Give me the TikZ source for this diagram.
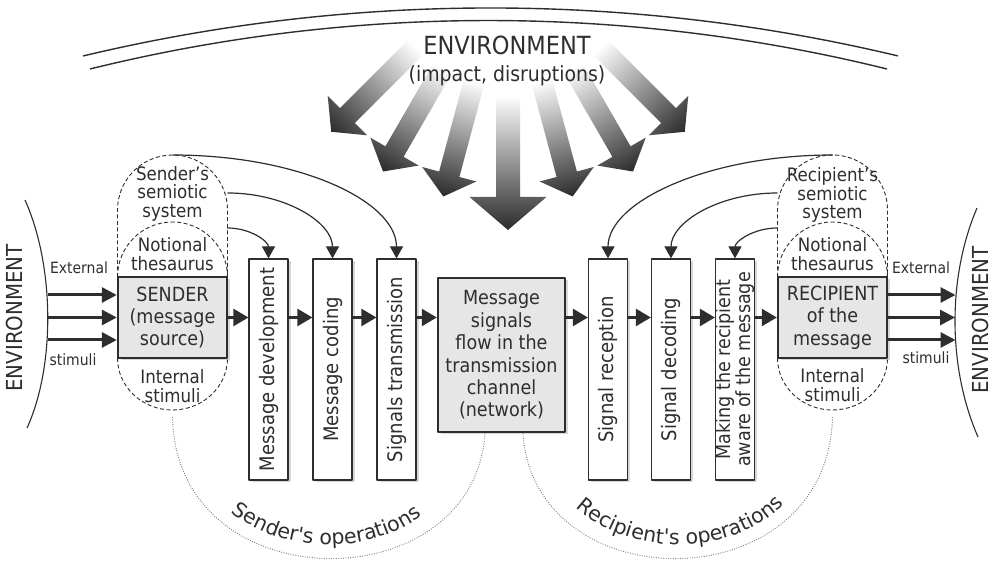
\documentclass[tikz,border=0pt]{standalone}
\usepackage{fontspec}
\setmainfont{DejaVu Sans Condensed}
\newfontfamily\opsfam{DejaVu Sans}
\usetikzlibrary{arrows.meta,shadows,decorations.text}

\definecolor{ink}{HTML}{2E2E2E}
\definecolor{keyfill}{HTML}{E6E6E6}
\definecolor{dotline}{HTML}{7A7A7A}
\definecolor{arrowdark}{HTML}{2A2A2A}

\newcommand\labelfnt{\fontsize{18.5}{18.5}\selectfont}
\newcommand\keyfnt{\fontsize{19.5}{22.4}\selectfont}
\newcommand\stepfnt{\fontsize{20}{18}\selectfont}
\newcommand\steptwofnt{\fontsize{19.5}{18}\selectfont}
\newcommand\stimfnt{\fontsize{15.5}{18}\selectfont}
\newcommand\envfnt{\fontsize{22}{24}\selectfont}
\newcommand\titlefnt{\fontsize{21}{27}\selectfont}
\newcommand\titlebig{\fontsize{25}{27}\selectfont}
\newcommand\opsfnt{\opsfam\fontsize{20.5}{24}\selectfont\color{ink}}

\tikzset{
  softshadow/.style={drop shadow={shadow xshift=2.5pt, shadow yshift=-2.5pt, opacity=0.3}},
  stepbox/.style={draw=ink, line width=1.2pt, fill=white, minimum width=39pt,
    minimum height=221pt, inner sep=0pt, softshadow},
  steptext/.style={rotate=90, font=\stepfnt, align=center, inner sep=0pt, text=ink},
  keybox/.style={draw=ink, line width=2.4pt, fill=keyfill, inner sep=0pt,
    align=center, font=\keyfnt, text=ink, softshadow},
  capline/.style={draw=ink, line width=0.9pt, dash pattern=on 4pt off 2.5pt},
  caplabel/.style={align=center, font=\labelfnt, inner sep=0pt, text=ink},
  flowarrow/.style={draw=ink, line width=2.4pt, -{Triangle[length=15pt,width=17pt]}},
  stimarrow/.style={draw=ink, line width=3pt, -{Triangle[length=15pt,width=15pt]}},
  feedarrow/.style={draw=ink, line width=1.2pt, -{Triangle[length=12pt,width=13pt]}},
  horizon/.style={draw=ink, line width=1.4pt},
  sidearc/.style={draw=ink, line width=1.1pt},
  opsarc/.style={draw=dotline, line width=0.9pt, dash pattern=on 0.9pt off 1.5pt},
  envlabel/.style={rotate=90, font=\envfnt, inner sep=0pt, text=ink},
  stimlabel/.style={font=\stimfnt, inner sep=0pt, text=ink},
}

\begin{document}
\begin{tikzpicture}[x=1pt,y=1pt,line join=round]
\useasboundingbox (0,0) rectangle (994,567);
\fill[white] (0,0) rectangle (994,567);

% outer environment horizon
\draw[horizon] (83,511) arc[start angle=103.44, end angle=76.57, radius=1753.8];
\draw[horizon] (90,498) arc[start angle=103.88, end angle=76.12, radius=1661.4];

% fan of fading impact arrows
\foreach \ang/\rt/\rs/\w/\hw/\hl in {-45/250/130/10.5/28/23, -30/250/130/10.5/28/23,
    -15/250/130/10.5/28/23, 15/250/130/10.5/28/23, 30/250/130/10.5/28/23,
    45/250/130/10.5/28/23, 0/275/140/12/38.5/33}{
  \begin{scope}[transform canvas={shift={(508pt,612pt)}, rotate=\ang}]
    \shade[top color=white, middle color=black!25, bottom color=arrowdark]
      ({-\w},{-\rs}) -- ({-\w},{\hl-\rt}) -- ({-\hw},{\hl-\rt}) -- (0,{-\rt})
      -- ({\hw},{\hl-\rt}) -- ({\w},{\hl-\rt}) -- ({\w},{-\rs}) -- cycle;
  \end{scope}
}

\node[font=\titlefnt, align=center, text=ink, inner sep=0pt] (title) at (507,506.5)
  {{\titlebig ENVIRONMENT}\\(impact, disruptions)};

% side environments
\draw[sidearc] (25,367) .. controls (55,300) and (55,200) .. (27,139);
\draw[sidearc] (977,359) .. controls (947.5,290) and (947.5,200) .. (978,130);
\node[envlabel] (envL) at (14,249) {ENVIRONMENT};
\node[envlabel] (envR) at (980.5,247) {ENVIRONMENT};

% sender's semiotic capsule
\draw[capline] (117.5,290) -- (117.5,357) arc[start angle=180, end angle=0, radius=55] -- (227.5,290);
\draw[capline] (117.5,290) arc[start angle=180, end angle=0, radius=55];
\draw[capline] (117.5,209) arc[start angle=180, end angle=360, x radius=55, y radius=52];
% recipient's semiotic capsule
\draw[capline] (777.5,290) -- (777.5,357) arc[start angle=180, end angle=0, radius=55] -- (887.5,290);
\draw[capline] (777.5,290) arc[start angle=180, end angle=0, radius=55];
\draw[capline] (777.5,209) arc[start angle=180, end angle=360, x radius=55, y radius=52];

\node[caplabel] (ssem) at (172.5,373.5) {Sender's\\semiotic\\system};
\node[caplabel] (snot) at (172.5,313) {Notional\\thesaurus};
\node[caplabel] (sint) at (172.5,181) {Internal\\stimuli};
\node[caplabel] (rsem) at (832.5,372) {Recipient's\\semiotic\\system};
\node[caplabel] (rnot) at (832.5,313) {Notional\\thesaurus};
\node[caplabel] (rint) at (832.5,182) {Internal\\stimuli};

% main boxes
\node[keybox, minimum width=109pt, minimum height=81pt] (snd) at (172.5,249.5)
  {SENDER\\(message\\source)};
\node[keybox, minimum width=127pt, minimum height=154pt] (chn) at (501.5,212)
  {Message\\signals\\flow in the\\transmission\\channel\\(network)};
\node[keybox, minimum width=109pt, minimum height=81pt] (rcp) at (832.5,249.5)
  {RECIPIENT\\of the\\message};

% operation steps
\node[stepbox] (md) at (268.5,197.5) {};
\node[steptext] (mdt) at (md) {Message development};
\node[stepbox] (mc) at (332.5,197.5) {};
\node[steptext] (mct) at (mc) {Message coding};
\node[stepbox] (st) at (396.5,197.5) {};
\node[steptext] (stt) at (st) {Signals transmission};
\node[stepbox] (sr) at (608,197.5) {};
\node[steptext] (srt) at (sr) {Signal reception};
\node[stepbox] (sd) at (671,197.5) {};
\node[steptext] (sdt) at (sd) {Signal decoding};
\node[stepbox] (mk) at (735,197.5) {};
\node[steptext, font=\steptwofnt] (mkt) at (mk) {Making the recipient\\aware of the message};

% message flow
\coordinate (flowline) at (0,249.5);
\draw[flowarrow] (snd.east) -- (md.west |- flowline);
\draw[flowarrow] (md.east |- flowline) -- (mc.west |- flowline);
\draw[flowarrow] (mc.east |- flowline) -- (st.west |- flowline);
\draw[flowarrow] (st.east |- flowline) -- (chn.west |- flowline);
\draw[flowarrow] (chn.east |- flowline) -- (sr.west |- flowline);
\draw[flowarrow] (sr.east |- flowline) -- (sd.west |- flowline);
\draw[flowarrow] (sd.east |- flowline) -- (mk.west |- flowline);
\draw[flowarrow] (mk.east |- flowline) -- (rcp.west);

% external stimuli
\coordinate (eL1) at (47.5,272);
\coordinate (eL2) at (48,249.5);
\coordinate (eL3) at (47.5,227);
\coordinate (eR1) at (955.5,272);
\coordinate (eR2) at (955,249.5);
\coordinate (eR3) at (955.5,227);
\draw[stimarrow] (eL1) -- (snd.west |- eL1);
\draw[stimarrow] (eL2) -- (snd.west |- eL2);
\draw[stimarrow] (eL3) -- (snd.west |- eL3);
\draw[stimarrow] (rcp.east |- eR1) -- (eR1);
\draw[stimarrow] (rcp.east |- eR2) -- (eR2);
\draw[stimarrow] (rcp.east |- eR3) -- (eR3);
\node[stimlabel] (extL) at (79,299) {External};
\node[stimlabel] (stmL) at (73,207) {stimuli};
\node[stimlabel] (extR) at (921,299) {External};
\node[stimlabel] (stmR) at (926,209) {stimuli};

% semiotic feed-ins
\coordinate (sapex) at (172.5,412);
\coordinate (sside1) at (227.5,374);
\coordinate (sside2) at (227.5,339);
\coordinate (rapex) at (832.5,412);
\coordinate (rside1) at (777.5,374);
\coordinate (rside2) at (777.5,339);
\draw[feedarrow] (sapex) .. controls +(127,0) and +(0,57) .. (st.north);
\draw[feedarrow] (sside1) .. controls +(58,0) and +(0,36) .. (mc.north);
\draw[feedarrow] (sside2) .. controls +(23,0) and +(0,17) .. (md.north);
\draw[feedarrow] (rapex) .. controls +(-124,0) and +(0,57) .. (sr.north);
\draw[feedarrow] (rside1) .. controls +(-59,0) and +(0,36) .. (sd.north);
\draw[feedarrow] (rside2) .. controls +(-24,0) and +(0,17) .. (mk.north);

% operation groupings
\coordinate (sopsA) at (172.5,150);
\coordinate (sopsB) at ([xshift=-16.5pt]chn.south);
\coordinate (ropsA) at ([xshift=21.5pt]chn.south);
\coordinate (ropsB) at (832.5,150);
\draw[opsarc] (sopsA) .. controls (176,-36) and (474,-36) .. (sopsB);
\draw[opsarc] (ropsA) .. controls (534,-36) and (828,-36) .. (ropsB);
\path[decorate, decoration={text along path, text align=center,
    text={|\opsfnt|Sender's operations}}]
  (190,140) .. controls (196,-16) and (458,-16) .. (466,135);
\path[decorate, decoration={text along path, text align=center,
    text={|\opsfnt|Recipient's operations}}]
  (541,135) .. controls (551,-16) and (811,-16) .. (816,140);
\end{tikzpicture}
\end{document}
